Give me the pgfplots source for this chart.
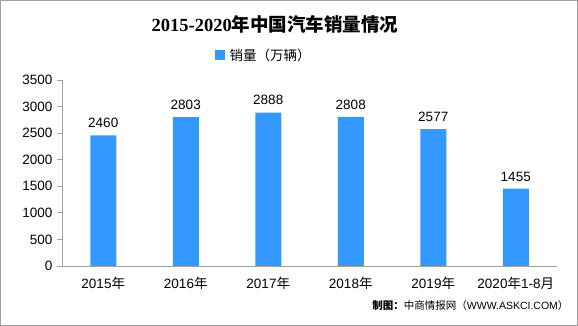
\documentclass[border=0pt]{standalone}
\usepackage{pgfplots}
\pgfplotsset{compat=1.18}
\usepackage{fontspec}
\setmainfont{Liberation Sans}
\newfontfamily\cjk{Noto Sans CJK SC}
\newfontfamily\serifb{Liberation Serif}
\definecolor{barblue}{RGB}{51,153,255}
\definecolor{axgray}{RGB}{160,160,160}
\begin{document}
\begin{tikzpicture}[x=1pt,y=1pt]
\draw[axgray,line width=1pt] (0.5,0.5) rectangle (577.5,325.5);
\begin{axis}[
  at={(62pt,60pt)}, anchor=south west,
  scale only axis, width=495pt, height=186pt,
  xmin=-0.5, xmax=5.5, ymin=0, ymax=3500,
  ytick={0,500,...,3500},
  xtick=data,
  xticklabels={{2015\cjk 年},{2016\cjk 年},{2017\cjk 年},{2018\cjk 年},{2019\cjk 年},{2020\cjk 年\rmfamily 1-8\cjk 月}},
  axis x line*=bottom, axis y line*=left,
  axis line style={axgray, line width=0.8pt},
  x axis line style={-}, y axis line style={-},
  xtick style={draw=none},
  ytick style={axgray, line width=0.8pt},
  tick align=outside, major tick length=5pt,
  /pgf/number format/assume math mode=true,
  /pgf/number format/1000 sep={},
  tick label style={font=\fontsize{13.5}{15}\selectfont, black},
  yticklabel style={xshift=-1pt},
  xticklabel style={yshift=-3pt},
  ybar, bar width=26pt,
  nodes near coords,
  nodes near coords style={font=\fontsize{13.5}{15}\selectfont, black, yshift=4pt, /pgf/number format/assume math mode=true,/pgf/number format/1000 sep={}},
]
\addplot[fill=barblue, draw=none] coordinates {(0,2460) (1,2803) (2,2888) (3,2808) (4,2577) (5,1455)};
\end{axis}
\node at (275,302) {\fontsize{18.5}{21}\selectfont\bfseries{\serifb 2015-2020}{\cjk 年中国汽车销量情况}};
\fill[barblue] (215,266) rectangle (225,276);
\node[anchor=west] at (226,271) {\fontsize{13.5}{15}\selectfont\cjk 销量（万辆）};
\node[anchor=east] at (572,20) {\fontsize{10.5}{12}\selectfont{\cjk\bfseries 制图：}{\cjk 中商情报网（}WWW.ASKCI.COM{\cjk ）}};
\end{tikzpicture}
\end{document}
